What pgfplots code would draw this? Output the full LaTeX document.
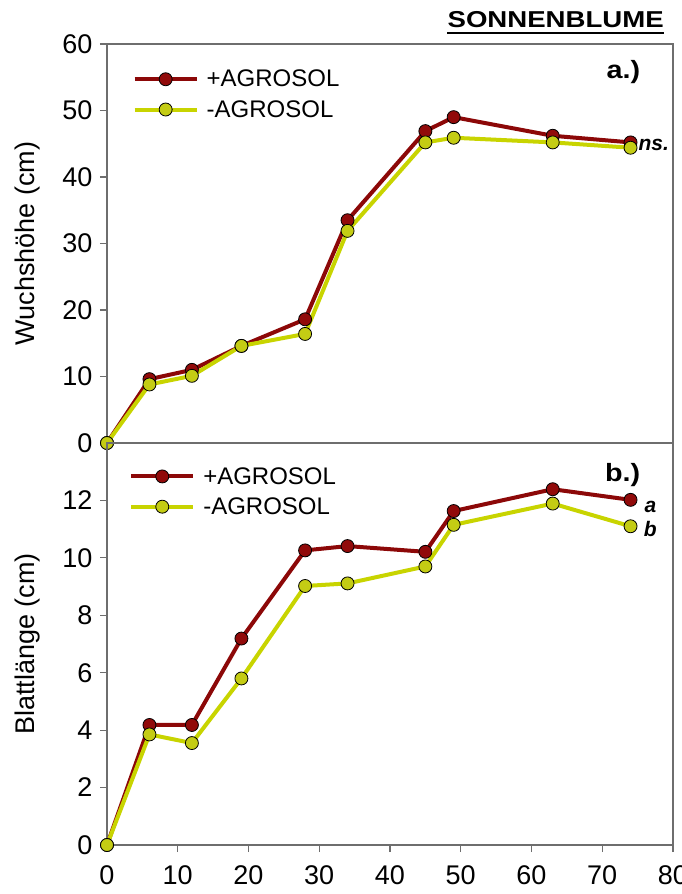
\documentclass[border=0pt]{standalone}
\usepackage{fontspec}
\setmainfont{Liberation Sans}
\usepackage{pgfplots}
\pgfplotsset{compat=1.18}
\definecolor{dred}{RGB}{140,8,8}
\definecolor{mred}{RGB}{145,10,10}
\definecolor{lime}{RGB}{200,212,0}
\definecolor{mlime}{RGB}{196,204,20}
\definecolor{axgray}{RGB}{110,110,110}
\begin{document}
\begin{tikzpicture}
\useasboundingbox (0pt,0pt) rectangle (681pt,894pt);
\pgfplotsset{
  every axis/.append style={
    scale only axis, width=566pt, xmin=0, xmax=80,
    axis line style={axgray, line width=1.2pt},
    tick style={axgray, line width=1.2pt},
    tick align=outside, major tick length=7pt,
    ticklabel style={font=\fontsize{27}{30}\selectfont},
    yticklabel style={xshift=-4pt},
    xticklabel style={yshift=-10pt},
    label style={font=\fontsize{27}{30}\selectfont},
    /pgf/number format/assume math mode=true,
    ytick pos=left, xtick pos=bottom,
    legend cell align=left,
    legend image code/.code={\draw[mark repeat=2,mark phase=2] plot coordinates {(0pt,0pt) (31pt,0pt) (62pt,0pt)};},
    legend style={draw=none, fill=none, font=\fontsize{24}{28}\selectfont, inner sep=0pt, row sep=8pt,
      /tikz/every odd column/.append style={column sep=6pt}},
  },
  plus/.style={dred, line width=4pt, mark=*, mark size=6.5pt, mark options={draw=black, line width=0.8pt, fill=mred}},
  minus/.style={lime, line width=4pt, mark=*, mark size=6.5pt, mark options={draw=black, line width=0.8pt, fill=mlime}},
}
% top panel
\begin{axis}[at={(107pt,451pt)}, anchor=south west, height=399pt,
  ymin=0, ymax=60, ytick={0,10,...,60}, xtick=\empty,
  ylabel={Wuchshöhe (cm)},
  ylabel style={at={(axis description cs:-0.14,0.5)}, anchor=center},
  legend style={at={(0.045,0.94)}, anchor=north west}]
\addplot[plus] coordinates {(0,0) (6,9.6) (12,11.0) (19,14.6) (28,18.6) (34,33.5) (45,46.9) (49,49.0) (63,46.2) (74,45.2)};
\addlegendentry{+AGROSOL}
\addplot[minus] coordinates {(0,0) (6,8.8) (12,10.1) (19,14.6) (28,16.4) (34,31.9) (45,45.2) (49,45.9) (63,45.2) (74,44.4)};
\addlegendentry{-AGROSOL}
\node[anchor=east, inner sep=0pt, font=\fontsize{25}{28}\selectfont\bfseries] at (axis cs:75.4,55.8) {\scalebox{1.15}[1]{a.)}};
\node[anchor=west, font=\fontsize{21}{24}\selectfont\bfseries\itshape, inner sep=0pt] at (axis cs:75.1,44.8) {ns.};
\end{axis}
% bottom panel
\begin{axis}[at={(107pt,49pt)}, anchor=south west, height=402pt,
  ymin=0, ymax=14, ytick={0,2,...,12}, xtick={0,10,...,80},
  ylabel={Blattlänge (cm)},
  ylabel style={at={(axis description cs:-0.14,0.5)}, anchor=center},
  legend style={at={(0.039,0.945)}, anchor=north west}]
\addplot[plus] coordinates {(0,0) (6,4.18) (12,4.18) (19,7.19) (28,10.26) (34,10.41) (45,10.21) (49,11.63) (63,12.39) (74,12.02)};
\addlegendentry{+AGROSOL}
\addplot[minus] coordinates {(0,0) (6,3.85) (12,3.55) (19,5.80) (28,9.02) (34,9.11) (45,9.70) (49,11.15) (63,11.89) (74,11.10)};
\addlegendentry{-AGROSOL}
\node[anchor=east, inner sep=0pt, font=\fontsize{25}{28}\selectfont\bfseries] at (axis cs:75.4,12.87) {\scalebox{1.15}[1]{b.)}};
\node[font=\fontsize{21}{24}\selectfont\bfseries\itshape, inner sep=0pt] at (axis cs:76.8,11.78) {a};
\node[font=\fontsize{21}{24}\selectfont\bfseries\itshape, inner sep=0pt] at (axis cs:76.8,11.0) {b};
\end{axis}
\node[anchor=base east, inner sep=0pt, text depth=0pt, font=\fontsize{23}{26}\selectfont\bfseries] (T) at (664pt,866pt) {\scalebox{1.2}[1]{SONNENBLUME}};
\draw[black, line width=2.4pt] ([yshift=-5pt]T.south west) -- ([yshift=-5pt]T.south east);
\end{tikzpicture}
\end{document}
